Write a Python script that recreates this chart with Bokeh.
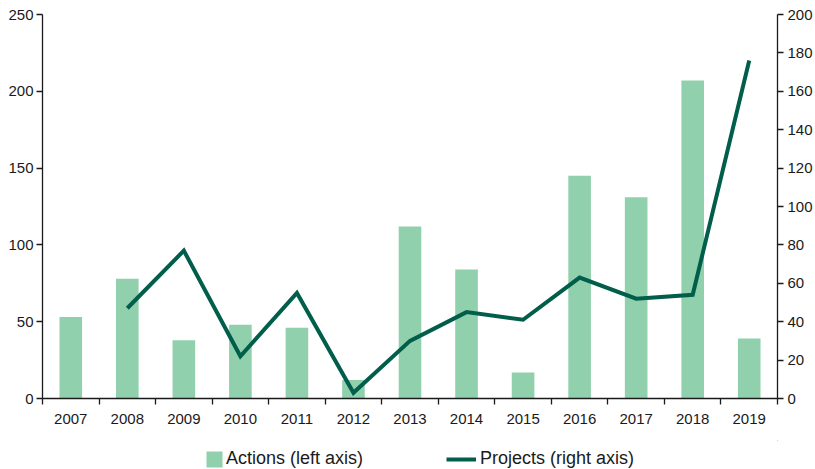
from bokeh.plotting import figure
from bokeh.layouts import column
from bokeh.models import (Range1d, LinearAxis, FixedTicker, Legend, LegendItem, Grid)
from bokeh.embed import file_html
from bokeh.resources import INLINE

years = ["2007", "2008", "2009", "2010", "2011", "2012", "2013",
         "2014", "2015", "2016", "2017", "2018", "2019"]
actions = [53, 78, 38, 48, 46, 12, 112, 84, 17, 145, 131, 207, 39]
projects = [float("nan"), 47, 77, 22, 55, 3, 30, 45, 41, 63, 52, 54, 176]
left_ticks = [0, 50, 100, 150, 200, 250]
right_ticks = [0, 20, 40, 60, 80, 100, 120, 140, 160, 180, 200]

BAR = "#91d0ac"
LINE = "#005e4b"
INK = "#1a1a1a"
FONT = "Liberation Sans"

# category slot positions (centre of each year slot) and slot boundaries
centers = [i + 0.5 for i in range(len(years))]
bounds = list(range(len(years) + 1))

p = figure(x_range=Range1d(0, len(years)), y_range=Range1d(0, 250),
           width=815, height=440, output_backend="svg", toolbar_location=None,
           x_axis_location=None, y_axis_location=None,
           min_border_left=42, min_border_right=38, min_border_top=14,
           min_border_bottom=42)
p.outline_line_color = None
p.extra_y_ranges = {"right": Range1d(0, 200)}

bars = p.vbar(x=centers, top=actions, width=0.4, fill_color=BAR, line_color=None)
line = p.line(x=centers, y=projects, y_range_name="right", line_width=4,
              line_color=LINE, line_join="miter")

def style(ax, size):
    ax.axis_line_color = INK
    ax.axis_line_width = 1.3
    ax.major_tick_line_color = INK
    ax.major_tick_line_width = 1.3
    ax.minor_tick_line_color = INK
    ax.minor_tick_line_width = 1.3
    ax.major_label_text_font = FONT
    ax.major_label_text_font_size = size
    ax.major_label_text_color = INK

left = LinearAxis(ticker=FixedTicker(ticks=left_ticks), major_tick_out=6,
                  major_tick_in=0, minor_tick_out=0, minor_tick_in=0,
                  major_label_standoff=3)
style(left, "15px")
p.add_layout(left, "left")

right = LinearAxis(y_range_name="right", ticker=FixedTicker(ticks=right_ticks),
                   major_tick_out=6, major_tick_in=0, minor_tick_out=0,
                   minor_tick_in=0, major_label_standoff=4)
style(right, "15px")
p.add_layout(right, "right")

xax = LinearAxis(ticker=FixedTicker(ticks=centers, minor_ticks=bounds),
                 major_label_overrides={c: y for c, y in zip(centers, years)},
                 major_tick_out=0, major_tick_in=0,
                 minor_tick_out=6, minor_tick_in=0,
                 major_label_standoff=9)
style(xax, "15px")
p.add_layout(xax, "below")

for r in list(p.center):
    if isinstance(r, Grid):
        r.visible = False

# legend strip below the chart (key glyphs use the same data, drawn far off-range)
lg = figure(x_range=Range1d(-1000, -999), y_range=Range1d(-1000, -999),
            width=815, height=29,
            output_backend="svg", toolbar_location=None,
            x_axis_location=None, y_axis_location=None,
            min_border_left=0, min_border_right=0, min_border_top=0,
            min_border_bottom=0)
lg.outline_line_color = None
for r in list(lg.center):
    if isinstance(r, Grid):
        r.visible = False
bar_key = lg.vbar(x=centers, top=actions, width=0.4, fill_color=BAR, line_color=None)
line_key = lg.line(x=centers, y=projects, line_width=4, line_color=LINE)

def make_legend(item, loc, gw, standoff):
    leg = Legend(items=[item], location=loc, orientation="horizontal",
                 glyph_width=gw, glyph_height=20, label_standoff=standoff,
                 padding=0, margin=0, spacing=0,
                 border_line_color=None, background_fill_alpha=0,
                 label_text_font=FONT, label_text_font_size="18px",
                 label_text_color=INK)
    lg.add_layout(leg)

make_legend(LegendItem(label="Actions (left axis)", renderers=[bar_key]), (162, 0), 20, 2)
make_legend(LegendItem(label="Projects (right axis)", renderers=[line_key]), (404, 0), 30, 4)

open("out.html", "w").write(file_html(column(p, lg, spacing=0), INLINE))
